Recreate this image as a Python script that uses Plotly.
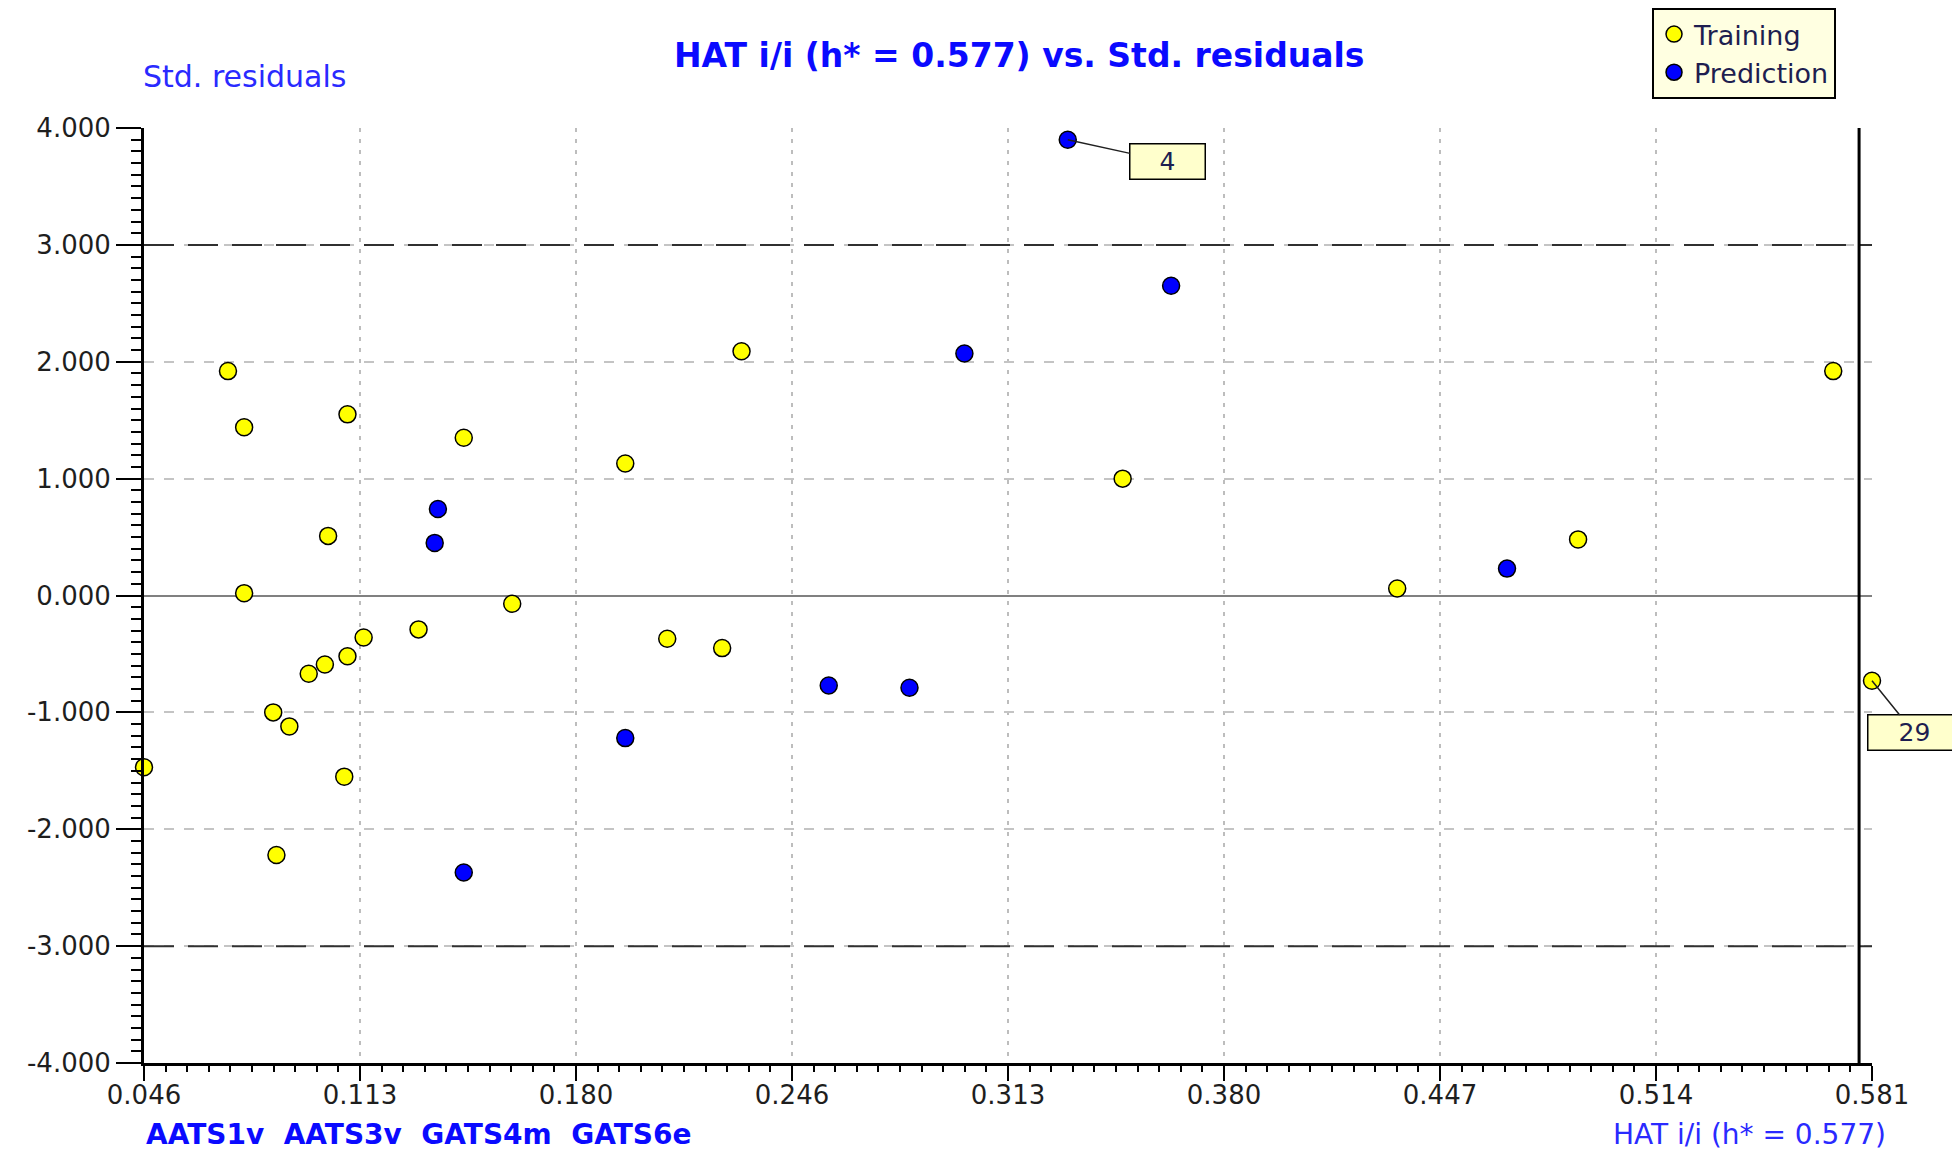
import numpy as np
import plotly.graph_objects as go

# ---------------- data ----------------
train_hat = [0.072, 0.077, 0.109, 0.145, 0.231, 0.195, 0.103, 0.077, 0.349, 0.569,
             0.490, 0.434, 0.581, 0.160, 0.131, 0.114, 0.109, 0.102, 0.097, 0.208,
             0.225, 0.086, 0.091, 0.046, 0.108, 0.087]
train_res = [1.92, 1.44, 1.55, 1.35, 2.09, 1.13, 0.51, 0.02, 1.00, 1.92,
             0.48, 0.06, -0.73, -0.07, -0.29, -0.36, -0.52, -0.59, -0.67, -0.37,
             -0.45, -1.00, -1.12, -1.47, -1.55, -2.22]

pred_hat = [0.332, 0.364, 0.300, 0.137, 0.136, 0.468, 0.258, 0.283, 0.195, 0.145]
pred_res = [3.90, 2.65, 2.07, 0.74, 0.45, 0.23, -0.77, -0.79, -1.22, -2.37]

x_range = [0.046, 0.581]
x_ticktext = ["0.046", "0.113", "0.180", "0.246", "0.313", "0.380", "0.447", "0.514", "0.581"]
y_tickvals = [4, 3, 2, 1, 0, -1, -2, -3, -4]
y_ticktext = ["4.000", "3.000", "2.000", "1.000", "0.000", "-1.000", "-2.000", "-3.000", "-4.000"]

h_star = 0.577
resid_limit = 3.0

# labelled points: (series, index, text)
labelled = [("pred", 0, "4"), ("train", 12, "29")]

# ---------------- figure ----------------
blue_txt = "#2a2aff"
tick_col = "#1e1e1e"
font_fam = "DejaVu Sans"

fig = go.Figure()
fig.add_trace(go.Scatter(
    x=train_hat, y=train_res, mode="markers", name="Training",
    marker=dict(color="#ffff00", size=17, line=dict(color="black", width=1.5)),
    cliponaxis=False))
fig.add_trace(go.Scatter(
    x=pred_hat, y=pred_res, mode="markers", name="Prediction",
    marker=dict(color="#0000ff", size=17, line=dict(color="black", width=1.5)),
    cliponaxis=False))

x_tickvals = list(np.linspace(x_range[0], x_range[1], len(x_ticktext)))
x_minor = (x_tickvals[1] - x_tickvals[0]) / 10

fig.update_xaxes(
    range=x_range, tickmode="array", tickvals=x_tickvals, ticktext=x_ticktext,
    showline=True, linecolor="black", linewidth=3, mirror=False,
    ticks="outside", ticklen=15, tickwidth=2, tickcolor="black",
    ticklabelstandoff=-8,
    minor=dict(ticks="outside", dtick=x_minor, tick0=x_range[0], ticklen=6,
               tickwidth=2, tickcolor="black", showgrid=False),
    showgrid=True, gridcolor="#bdbdbd", gridwidth=2, griddash="4px,7px",
    zeroline=False,
    tickfont=dict(family=font_fam, size=26, color=tick_col))
fig.update_yaxes(
    range=[-4, 4], tickmode="array", tickvals=y_tickvals, ticktext=y_ticktext,
    showline=True, linecolor="black", linewidth=3, mirror=False,
    ticks="outside", ticklen=25, tickwidth=2, tickcolor="black",
    minor=dict(ticks="outside", dtick=0.1, tick0=0, ticklen=10,
               tickwidth=2, tickcolor="black", showgrid=False),
    showgrid=True, gridcolor="#c4c4c4", gridwidth=2, griddash="10px,10px",
    zeroline=True, zerolinecolor="#808080", zerolinewidth=2,
    tickfont=dict(family=font_fam, size=26, color=tick_col))

# residual limits and h* line
for lim in (resid_limit, -resid_limit):
    fig.add_shape(type="line", xref="paper", x0=0, x1=1, yref="y", y0=lim, y1=lim,
                  line=dict(color="#303030", width=2, dash="30px,14px"), layer="above")
fig.add_shape(type="line", xref="x", x0=h_star, x1=h_star, yref="paper", y0=0, y1=1,
              line=dict(color="black", width=3), layer="above")

# point labels
offsets = {"4": (100, 22), "29": (42, 52)}
for series, idx, txt in labelled:
    px = pred_hat[idx] if series == "pred" else train_hat[idx]
    py = pred_res[idx] if series == "pred" else train_res[idx]
    ax, ay = offsets[txt]
    fig.add_annotation(x=px, y=py, text=txt, showarrow=True, arrowhead=0,
                       arrowwidth=1.5, arrowcolor="#202020", ax=ax, ay=ay,
                       bgcolor="#ffffcc", bordercolor="black", borderwidth=1.5,
                       borderpad=2, width=70 if txt == "4" else 88, height=30,
                       font=dict(family=font_fam, size=25, color="#1e1e50"))

# titles
fig.add_annotation(text="<b>HAT i/i (h* = 0.577) vs. Std. residuals</b>",
                   xref="paper", yref="paper", x=0.5064, y=1.078, showarrow=False,
                   xanchor="center", yanchor="middle",
                   font=dict(family=font_fam, size=33, color="#0a0aff"))
fig.add_annotation(text="Std. residuals", xref="paper", yref="paper", x=-0.002, y=1.0556,
                   showarrow=False, xanchor="left", yanchor="middle",
                   font=dict(family=font_fam, size=30, color=blue_txt))
fig.add_annotation(text="<b>AATS1v  AATS3v  GATS4m  GATS6e</b>", xref="paper", yref="paper",
                   x=0.0, y=-0.077, showarrow=False, xanchor="left", yanchor="middle",
                   font=dict(family=font_fam, size=28, color="#0a0aff"))
fig.add_annotation(text="HAT i/i (h* = 0.577)", xref="paper", yref="paper",
                   x=1.0093, y=-0.077, showarrow=False, xanchor="right", yanchor="middle",
                   font=dict(family=font_fam, size=28, color=blue_txt))

# page body has an 8px margin: shift the figure accordingly
fig.update_layout(
    width=1952, height=1144,
    margin=dict(l=136, r=88, t=120, b=89, autoexpand=False),
    paper_bgcolor="white", plot_bgcolor="white",
    showlegend=True,
    legend=dict(x=0.8727, y=1.1283, xanchor="left", yanchor="top",
                bgcolor="#ffffe1", bordercolor="black", borderwidth=2,
                font=dict(family=font_fam, size=27, color="#1e1e50"),
                tracegroupgap=0, itemwidth=30),
)

fig.write_html("out.html")
